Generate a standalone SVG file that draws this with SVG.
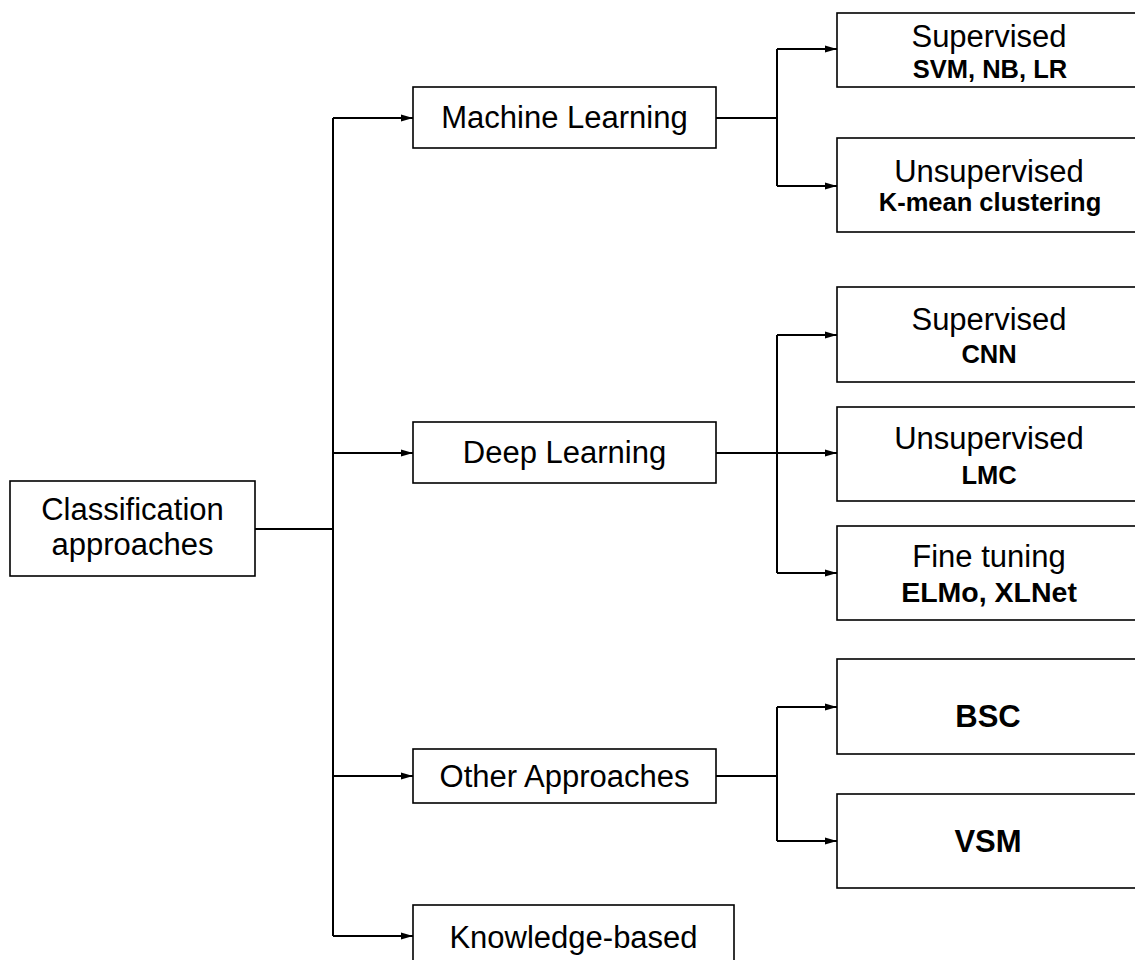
<svg xmlns="http://www.w3.org/2000/svg" width="1135" height="960" viewBox="0 0 1135 960">
  <style>
    .box { fill: #ffffff; stroke: #000000; stroke-width: 1.6; }
    .t { font-family: "Liberation Sans", Arial, sans-serif; font-size: 31px; fill: #000000; text-anchor: middle; }
    .b { font-family: "Liberation Sans", Arial, sans-serif; font-weight: bold; font-size: 25.5px; fill: #000000; text-anchor: middle; }
    .b.big { font-size: 31px; }
    .b.mid { font-size: 28.5px; }
    .wire { fill: none; stroke: #000000; stroke-width: 2; }
    .arrow { fill: none; stroke: #000000; stroke-width: 2; marker-end: url(#head); }
  </style>
  <defs>
    <marker id="head" viewBox="0 0 12 8" refX="12" refY="4" markerWidth="12" markerHeight="8" orient="auto" markerUnits="userSpaceOnUse">
      <path d="M0,0.5 L12,4 L0,7.5 Z" fill="#000000"/>
    </marker>
  </defs>

  <rect width="1135" height="960" fill="#ffffff"/>

  <!-- connectors -->
  <g id="connectors">
    <!-- root to trunk -->
    <path class="wire" d="M255,529 H333"/>
    <path class="wire" d="M333,118 V936"/>
    <path class="arrow" d="M333,118 H413"/>
    <path class="arrow" d="M333,453 H413"/>
    <path class="arrow" d="M333,776 H413"/>
    <path class="arrow" d="M333,936 H413"/>
    <!-- machine learning branch -->
    <path class="wire" d="M716,118 H777 M777,49 V186"/>
    <path class="arrow" d="M777,49 H837"/>
    <path class="arrow" d="M777,186 H837"/>
    <!-- deep learning branch -->
    <path class="wire" d="M716,453 H777 M777,335 V573"/>
    <path class="arrow" d="M777,335 H837"/>
    <path class="arrow" d="M777,453 H837"/>
    <path class="arrow" d="M777,573 H837"/>
    <!-- other approaches branch -->
    <path class="wire" d="M716,776 H777 M777,707 V841"/>
    <path class="arrow" d="M777,707 H837"/>
    <path class="arrow" d="M777,841 H837"/>
  </g>

  <g id="root">
    <rect class="box" x="10" y="481" width="245" height="95"/>
    <text class="t" x="132.5" y="520">Classification</text>
    <text class="t" x="132.5" y="555">approaches</text>
  </g>

  <g id="machine-learning">
    <rect class="box" x="413" y="87" width="303" height="61"/>
    <text class="t" x="564.5" y="128">Machine Learning</text>
  </g>
  <g id="ml-supervised">
    <rect class="box" x="837" y="13" width="302" height="74"/>
    <text class="t" x="989" y="47">Supervised</text>
    <text class="b" x="990" y="78">SVM, NB, LR</text>
  </g>
  <g id="ml-unsupervised">
    <rect class="box" x="837" y="138" width="302" height="94"/>
    <text class="t" x="989" y="182">Unsupervised</text>
    <text class="b" x="990" y="211">K-mean clustering</text>
  </g>

  <g id="deep-learning">
    <rect class="box" x="413" y="422" width="303" height="61"/>
    <text class="t" x="564.5" y="463">Deep Learning</text>
  </g>
  <g id="dl-supervised">
    <rect class="box" x="837" y="287" width="302" height="95"/>
    <text class="t" x="989" y="330">Supervised</text>
    <text class="b" x="989" y="363">CNN</text>
  </g>
  <g id="dl-unsupervised">
    <rect class="box" x="837" y="407" width="302" height="94"/>
    <text class="t" x="989" y="449">Unsupervised</text>
    <text class="b" x="989" y="484">LMC</text>
  </g>
  <g id="dl-fine-tuning">
    <rect class="box" x="837" y="526" width="302" height="94"/>
    <text class="t" x="989" y="567">Fine tuning</text>
    <text class="b mid" x="989" y="602">ELMo, XLNet</text>
  </g>

  <g id="other-approaches">
    <rect class="box" x="413" y="749" width="303" height="54"/>
    <text class="t" x="564.5" y="787">Other Approaches</text>
  </g>
  <g id="bsc">
    <rect class="box" x="837" y="659" width="302" height="95"/>
    <text class="b big" x="988" y="727">BSC</text>
  </g>
  <g id="vsm">
    <rect class="box" x="837" y="794" width="302" height="94"/>
    <text class="b big" x="988" y="852">VSM</text>
  </g>

  <g id="knowledge-based">
    <rect class="box" x="413" y="905" width="321" height="70"/>
    <text class="t" x="573.5" y="948">Knowledge-based</text>
  </g>
</svg>
